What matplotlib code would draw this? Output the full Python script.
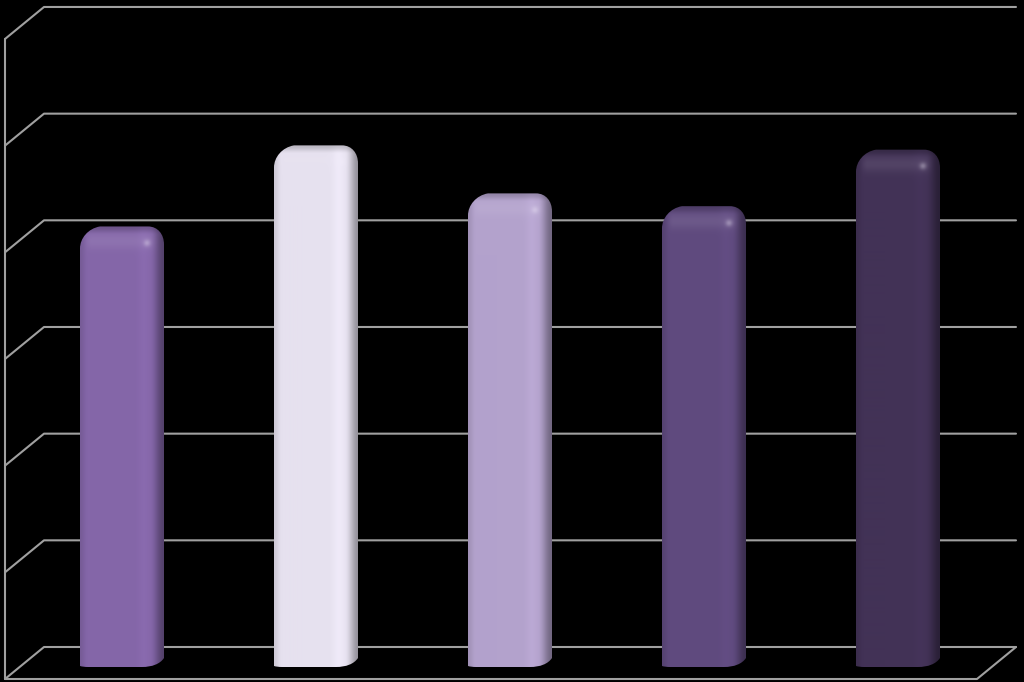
import numpy as np
import matplotlib
matplotlib.use("Agg")
import matplotlib.pyplot as plt
from matplotlib.path import Path
from matplotlib.patches import PathPatch

categories = ["A", "B", "C", "D", "E"]
values = [4.13, 4.89, 4.44, 4.32, 4.85]
colors = ["#8466A8", "#E6E1EF", "#B3A2CC", "#5F4A7E", "#423256"]
grid_levels = [0, 1, 2, 3, 4, 5, 6]

PX_X = 194.0      # pixels per category
PX_Y = 106.67     # pixels per value unit
GRID = "#A0A0A0"
BG = "#000000"

fig = plt.figure(figsize=(10.24, 6.82), dpi=100, facecolor=BG)
ax = fig.add_axes([0, 0, 1, 1])
ax.set_facecolor(BG)
ax.set_xlim(-122 / PX_X, (1024 - 122) / PX_X)
ax.set_ylim(-15 / PX_Y, 667 / PX_Y)
ax.axis("off")

# wall / floor geometry (offsets from the bar baseline)
back_y = 20 / PX_Y
front_y = -12 / PX_Y
back_l, back_r = (44 - 122) / PX_X, (1016 - 122) / PX_X
front_l, front_r = (5 - 122) / PX_X, (977 - 122) / PX_X
lw = 1.5
kw = dict(color=GRID, lw=lw, solid_capstyle="round", zorder=1)

for lv in grid_levels:
    ax.plot([front_l, back_l, back_r], [lv + front_y, lv + back_y, lv + back_y], **kw)
ax.plot([front_l, front_l], [grid_levels[0] + front_y, grid_levels[-1] + front_y], **kw)
ax.plot([front_l, front_r, back_r], [front_y, front_y, back_y], **kw)


def smooth(a, b, t):
    u = np.clip((t - a) / (b - a), 0, 1)
    return u * u * (3 - 2 * u)


def render(rgb, h, w=84):
    yy, xx = np.mgrid[0:h, 0:w] + 0.5
    s = np.ones((h, w))
    # horizontal bevels
    s *= 0.90 + 0.10 * smooth(0, 8, xx)
    s *= 1 + 0.04 * np.exp(-((xx - 64) / 6.0) ** 2)
    s *= 1 - 0.36 * smooth(70, 84, xx)
    # top facet is darker, then fades into the front face
    s *= 0.82 + 0.18 * smooth(1, 9, yy)
    img = s[..., None] * rgb
    # soft light band under the top facet
    band = 0.09 * np.exp(-((yy - 15) / 8.0) ** 2) * smooth(2, 12, xx) * (1 - smooth(68, 80, xx))
    # small greyish specular at the right shoulder
    spot = 0.30 * np.exp(-(((xx - 67) / 3.5) ** 2 + ((yy - 17) / 3.5) ** 2))
    mix = np.clip(band + spot, 0, 1)[..., None]
    img = img * (1 - mix) + mix * np.array([0.95, 0.93, 0.98])
    return np.clip(img, 0, 1)


def outline(cx, v, w=84):
    """Rounded bar silhouette in data coordinates."""
    X = lambda px: cx + (px - w / 2) / PX_X
    Y = lambda px: px / PX_Y
    top = v * PX_Y
    verts = [
        (X(0), Y(1)), (X(0), Y(top - 22)),
        (X(0), Y(top - 12)), (X(8), Y(top - 2)), (X(20), Y(top)),
        (X(68), Y(top)),
        (X(78), Y(top)), (X(84), Y(top - 8)), (X(84), Y(top - 18)),
        (X(84), Y(9)),
        (X(80), Y(3)), (X(72), Y(0)), (X(62), Y(0)),
        (X(8), Y(0)), (X(3), Y(0)), (X(0), Y(1)),
    ]
    codes = [Path.MOVETO, Path.LINETO,
             Path.CURVE4, Path.CURVE4, Path.CURVE4,
             Path.LINETO,
             Path.CURVE4, Path.CURVE4, Path.CURVE4,
             Path.LINETO,
             Path.CURVE4, Path.CURVE4, Path.CURVE4,
             Path.LINETO, Path.CURVE3, Path.CURVE3]
    return Path(verts, codes)


for i, (v, c) in enumerate(zip(values, colors)):
    h = int(round(v * PX_Y))
    rgb = np.array(matplotlib.colors.to_rgb(c))
    img = render(rgb, h)
    im = ax.imshow(img, extent=(i - 42 / PX_X, i + 42 / PX_X, 0, v),
                   aspect="auto", interpolation="bilinear", zorder=3)
    patch = PathPatch(outline(i, v), transform=ax.transData, facecolor="none", edgecolor="none")
    ax.add_patch(patch)
    im.set_clip_path(patch)

ax.set_xlim(-122 / PX_X, (1024 - 122) / PX_X)
ax.set_ylim(-15 / PX_Y, 667 / PX_Y)

fig.savefig("out.png", dpi=100, facecolor=BG)
